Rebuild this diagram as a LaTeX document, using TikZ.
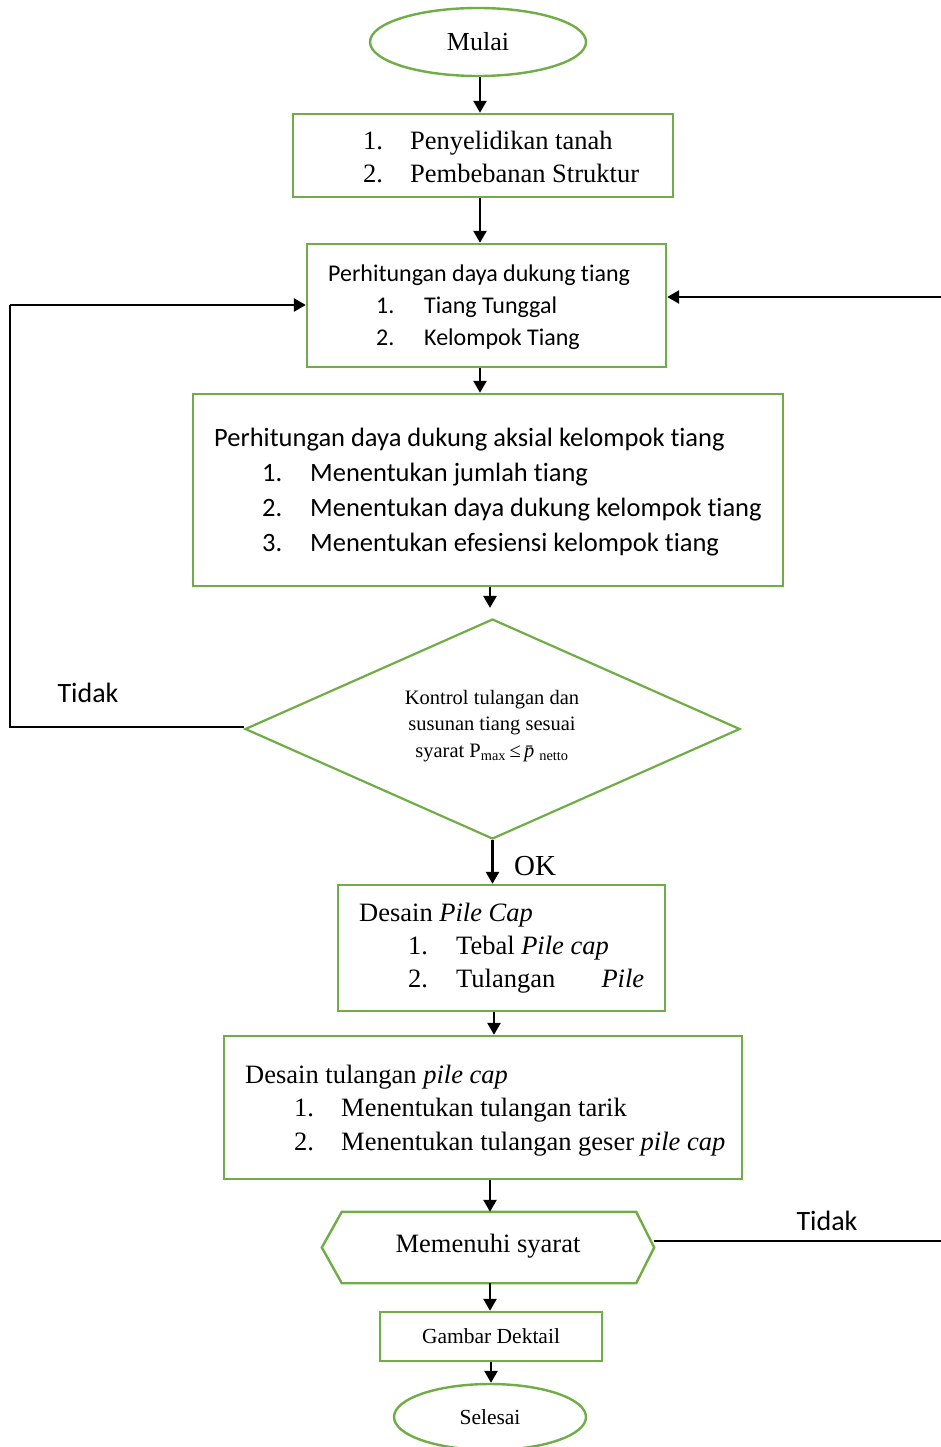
\documentclass[tikz,border=0pt]{standalone}
\usepackage{fontspec}
\setmainfont{Liberation Serif}
\newfontfamily\calib[Ligatures=NoCommon]{Carlito}
\usetikzlibrary{arrows.meta,shapes.geometric,calc}
\definecolor{frame}{RGB}{112,173,71}
\begin{document}
\begin{tikzpicture}[x=1pt,y=-1pt,
  box/.style={draw=frame,line width=2.4pt,rectangle,inner sep=0pt,fill=white},
  oval/.style={draw=frame,line width=2.4pt,ellipse,inner sep=0pt,fill=white},
  txt/.style={inner sep=0pt,anchor=base west},
  arr/.style={line width=2.6pt,-{Triangle[length=12pt,width=13pt]}},
  link/.style={line width=1.4pt},
  tnr/.style={font=\fontsize{26.5}{30}\selectfont},
  cal/.style={font=\calib\fontsize{26.5}{30}\selectfont},
  cals/.style={font=\calib\fontsize{24}{28}\selectfont}]
\useasboundingbox (0,0) rectangle (941,1447);

% start
\node[oval,minimum width=216,minimum height=68] (mulai) at (478,42) {};
\node[inner sep=0pt,font=\fontsize{26}{30}\selectfont] (tmulai) at (478,42) {Mulai};

% input data
\node[box,minimum width=380,minimum height=83] (b1) at (483,155.5) {};
\node[txt,tnr] (b1n1) at (363,150) {1.};
\node[txt,tnr] (b1t1) at (410,150) {Penyelidikan tanah};
\node[txt,tnr] (b1n2) at (363,183) {2.};
\node[txt,tnr] (b1t2) at (410,183) {Pembebanan Struktur};

% bearing capacity
\node[box,minimum width=359,minimum height=123] (b2) at (486.5,305.5) {};
\node[txt,cals] (b2h) at (328,281) {Perhitungan daya dukung tiang};
\node[txt,cals] (b2n1) at (376,313) {1.};
\node[txt,cals] (b2t1) at (424,313) {Tiang Tunggal};
\node[txt,cals] (b2n2) at (376,345) {2.};
\node[txt,cals] (b2t2) at (424,345) {Kelompok Tiang};

% axial group capacity
\node[box,minimum width=590,minimum height=192] (b3) at (488,490) {};
\node[txt,cal] (b3h) at (214,446) {Perhitungan daya dukung aksial kelompok tiang};
\node[txt,cal] (b3n1) at (262,481) {1.};
\node[txt,cal] (b3t1) at (310,481) {Menentukan jumlah tiang};
\node[txt,cal] (b3n2) at (262,516) {2.};
\node[txt,cal] (b3t2) at (310,516) {Menentukan daya dukung kelompok tiang};
\node[txt,cal] (b3n3) at (262,551) {3.};
\node[txt,cal] (b3t3) at (310,551) {Menentukan efesiensi kelompok tiang};

% check
\node[draw=frame,line width=2.2pt,diamond,inner sep=0pt,fill=white,
      minimum width=495,minimum height=220] (dia) at (492.5,729) {};
\node[inner sep=0pt,align=center,font=\fontsize{20.5}{26.5}\selectfont] (tdia) at (492,726)
  {Kontrol tulangan dan\\susunan tiang sesuai\\syarat P\textsubscript{max}\,≤\,\textit{p\char"0304}\textsubscript{netto}};
\node[inner sep=0pt,font=\calib\fontsize{28}{32}\selectfont] (tidak1) at (88,693) {Tidak};
\node[inner sep=0pt,font=\fontsize{29}{33}\selectfont] (ok) at (535,866) {OK};

% pile cap design
\node[box,minimum width=327,minimum height=126] (b4) at (501.5,948) {};
\node[txt,tnr] (b4h) at (359,921) {Desain \textit{Pile Cap}};
\node[txt,tnr] (b4n1) at (408,954) {1.};
\node[txt,tnr] (b4t1) at (456,954) {Tebal \textit{Pile cap}};
\node[txt,tnr] (b4n2) at (408,987) {2.};
\node[txt,tnr] (b4t2) at (456,987) {\hbox to 188pt{Tulangan\hfill\textit{Pile}}};

% reinforcement design
\node[box,minimum width=518,minimum height=143] (b5) at (483,1107.5) {};
\node[txt,tnr] (b5h) at (245,1083) {Desain tulangan \textit{pile cap}};
\node[txt,tnr] (b5n1) at (294,1116) {1.};
\node[txt,tnr] (b5t1) at (341,1116) {Menentukan tulangan tarik};
\node[txt,tnr] (b5n2) at (294,1150) {2.};
\node[txt,tnr] (b5t2) at (341,1150) {Menentukan tulangan geser \textit{pile cap}};

% requirement check (hexagon)
\node[inner sep=0pt,minimum width=332,minimum height=71] (hex) at (488,1247.5) {};
\draw[draw=frame,line width=2.4pt,fill=white,line join=miter]
  (hex.west) -- ($(hex.north west)+(20,0)$) -- ($(hex.north east)+(-18,0)$)
  -- (hex.east) -- ($(hex.south east)+(-18,0)$) -- ($(hex.south west)+(20,0)$) -- cycle;
\node[inner sep=0pt,tnr] (thex) at (488,1246) {Memenuhi syarat};
\node[inner sep=0pt,font=\calib\fontsize{28}{32}\selectfont] (tidak2) at (827,1221) {Tidak};

% drawing
\node[box,minimum width=222,minimum height=49] (b6) at (491,1336.5) {};
\node[inner sep=0pt,font=\fontsize{21.5}{25}\selectfont] (tb6) at (491,1336) {Gambar Dektail};

% end
\node[oval,minimum width=192,minimum height=66] (selesai) at (490,1417) {};
\node[inner sep=0pt,font=\fontsize{21.5}{25}\selectfont] (tsel) at (490,1417) {Selesai};

% main flow
\draw[arr] (mulai.south -| 480,0) -- (480,0 |- b1.north);
\draw[arr] (b1.south -| 480,0) -- (480,0 |- b2.north);
\draw[arr] (b2.south -| 480,0) -- (480,0 |- b3.north);
\draw[arr] (b3.south -| 490,0) -- ($(dia.north -| 490,0)+(0,-10)$);
\draw[arr] (dia.south) -- (dia.south |- b4.north);
\draw[arr] (b4.south -| 494,0) -- (494,0 |- b5.north);
\draw[arr] (b5.south -| 490,0) -- (490,0 |- hex.north);
\draw[arr] (hex.south -| 490,0) -- (490,0 |- b6.north);
\draw[arr] (b6.south) -- (b6.south |- selesai.north);

% feedback loops
\coordinate (lc) at (10,727);
\coordinate (lt) at (10,305);
\coordinate (rin) at (941,297);
\coordinate (rout) at (941,1241);
\draw[link] (dia.west |- lc) -- (lc) -- (lt);
\draw[arr] (lt) -- (lt -| b2.west);
\draw[arr] (rin) -- (rin -| b2.east);
\draw[line width=1.2pt] (rout -| hex.east) -- (rout);
\end{tikzpicture}
\end{document}
